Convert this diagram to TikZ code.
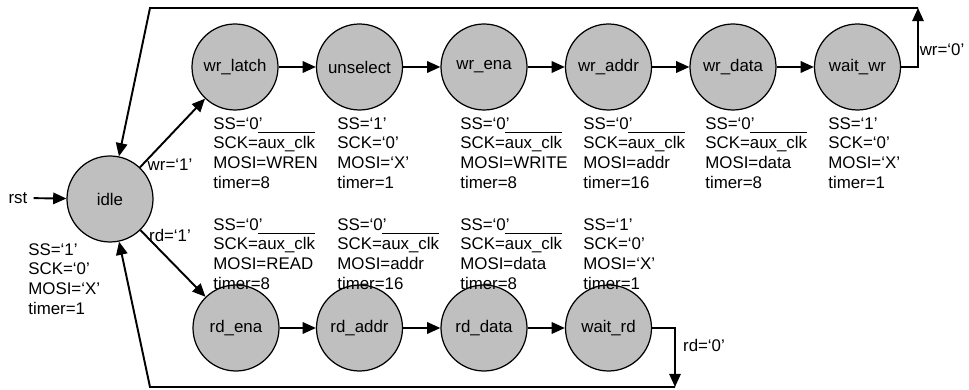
\documentclass[tikz,border=0pt]{standalone}
\usepackage{fontspec}
\setmainfont{Liberation Sans}
\usetikzlibrary{arrows.meta}
\newcommand{\nclk}{\smash{$\overline{\mbox{\rule{0pt}{8pt}aux\_clk}}$}}

\begin{document}
\begin{tikzpicture}[every node/.style={font=\fontsize{9.6}{11.2}\selectfont},
  fsm/.style={draw, circle, line width=0.7pt, fill=black!25, minimum size=1.72cm, inner sep=0pt},
  info/.style={anchor=north west, align=left, inner sep=0pt},
  arr/.style={line width=1.1pt, -{Triangle[length=7.5pt,width=6.5pt]}}]
  \useasboundingbox (0,0) rectangle (19.38,7.8);

  % states
  \node[fsm] (idle) at (2.20,3.82) {idle};
  \node[fsm] (wr_latch) at (4.70,6.46) {wr\_latch};
  \node[fsm] (unselect) at (7.19,6.46) {unselect};
  \node[fsm] (wr_ena) at (9.68,6.46) {wr\_ena};
  \node[fsm] (wr_addr) at (12.17,6.46) {wr\_addr};
  \node[fsm] (wr_data) at (14.66,6.46) {wr\_data};
  \node[fsm] (wait_wr) at (17.15,6.46) {wait\_wr};
  \node[fsm] (rd_ena) at (4.72,1.24) {rd\_ena};
  \node[fsm] (rd_addr) at (7.19,1.24) {rd\_addr};
  \node[fsm] (rd_data) at (9.68,1.24) {rd\_data};
  \node[fsm] (wait_rd) at (12.17,1.24) {wait\_rd};

  % outputs
  \node[info] (o_idle) at (0.56,2.94) {SS=`1'\\SCK=`0'\\MOSI=`X'\\timer=1};
  \node[info] (o_wr_latch) at (4.26,5.46) {SS=`0'\\SCK=\nclk\\MOSI=WREN\\timer=8};
  \node[info] (o_unselect) at (6.74,5.46) {SS=`1'\\SCK=`0'\\MOSI=`X'\\timer=1};
  \node[info] (o_wr_ena) at (9.20,5.46) {SS=`0'\\SCK=\nclk\\MOSI=WRITE\\timer=8};
  \node[info] (o_wr_addr) at (11.66,5.46) {SS=`0'\\SCK=\nclk\\MOSI=addr\\timer=16};
  \node[info] (o_wr_data) at (14.10,5.46) {SS=`0'\\SCK=\nclk\\MOSI=data\\timer=8};
  \node[info] (o_wait_wr) at (16.56,5.46) {SS=`1'\\SCK=`0'\\MOSI=`X'\\timer=1};
  \node[info] (o_rd_ena) at (4.26,3.44) {SS=`0'\\SCK=\nclk\\MOSI=READ\\timer=8};
  \node[info] (o_rd_addr) at (6.74,3.44) {SS=`0'\\SCK=\nclk\\MOSI=addr\\timer=16};
  \node[info] (o_rd_data) at (9.20,3.44) {SS=`0'\\SCK=\nclk\\MOSI=data\\timer=8};
  \node[info] (o_wait_rd) at (11.66,3.44) {SS=`1'\\SCK=`0'\\MOSI=`X'\\timer=1};

  % transitions
  \node (rst) at (0.36,3.84) {rst};
  \draw[arr] (rst) -- (idle);
  \draw[arr] (idle) -- (wr_latch);
  \draw[arr] (idle) -- (rd_ena);
  \node (wr1) at (3.40,4.50) {wr=`1'};
  \node (rd1) at (3.40,3.10) {rd=`1'};
  \draw[arr] (wr_latch) -- (unselect);
  \draw[arr] (unselect) -- (wr_ena);
  \draw[arr] (wr_ena) -- (wr_addr);
  \draw[arr] (wr_addr) -- (wr_data);
  \draw[arr] (wr_data) -- (wait_wr);
  \draw[arr] (rd_ena) -- (rd_addr);
  \draw[arr] (rd_addr) -- (rd_data);
  \draw[arr] (rd_data) -- (wait_rd);

  % back to idle
  \coordinate (wr_up) at (18.36,7.64);
  \coordinate (wr_back) at (3.00,7.64);
  \coordinate (rd_down) at (13.50,0.06);
  \coordinate (rd_back) at (3.00,0.06);
  \draw[arr] (wait_wr.east) -| (wr_up);
  \draw[arr] (wr_up) -- (wr_back) -- (idle);
  \node (wr0) at (18.84,6.80) {wr=`0'};
  \draw[arr] (wait_rd.east) -| (rd_down);
  \draw[arr] (rd_down) -- (rd_back) -- (idle);
  \node (rd0) at (14.08,0.90) {rd=`0'};
\end{tikzpicture}
\end{document}
